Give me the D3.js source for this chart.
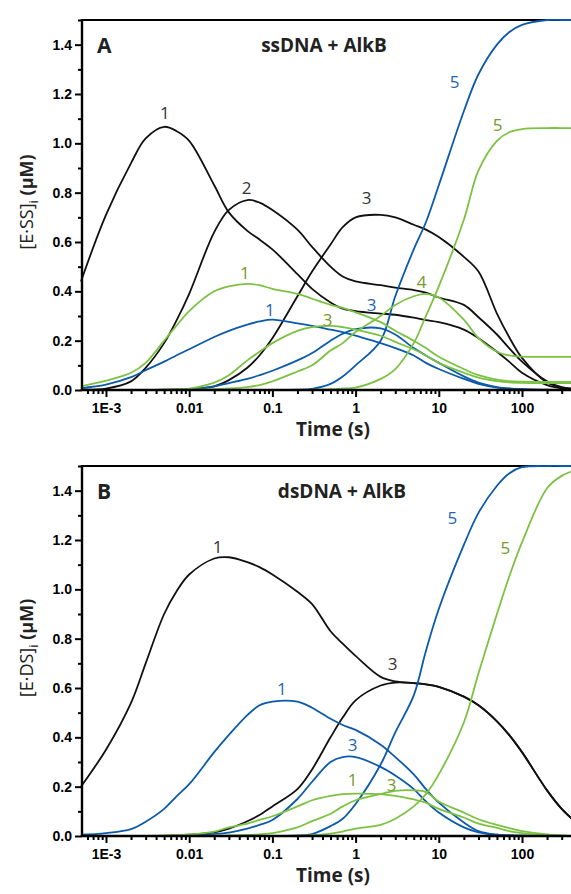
<!DOCTYPE html>
<html><head><meta charset="utf-8">
<script src="https://cdn.jsdelivr.net/npm/d3@7"></script>
<style>body{margin:0;background:#fff}</style>
</head><body>
<svg id="c" width="571" height="894"></svg>
<script>
// ---- data ----
const times = [0.0005, 0.001, 0.002, 0.003, 0.005, 0.007, 0.01, 0.02, 0.03, 0.05, 0.07, 0.1, 0.2, 0.3, 0.5, 0.7, 1, 2, 3, 5, 7, 10, 20, 30, 50, 70, 100, 200, 300, 500];

const xTickValues = [0.001, 0.01, 0.1, 1, 10, 100];
const xTickLabels = ["1E-3", "0.01", "0.1", "1", "10", "100"];
const yTickValues = [0, 0.2, 0.4, 0.6, 0.8, 1.0, 1.2, 1.4];
const yTickLabels = ["0.0", "0.2", "0.4", "0.6", "0.8", "1.0", "1.2", "1.4"];

// Panel A : ssDNA + AlkB
const aBlack1 = [0.44, 0.71, 0.92, 1.02, 1.067, 1.05, 1.01, 0.83, 0.72, 0.645, 0.61, 0.57, 0.47, 0.41, 0.355, 0.33, 0.32, 0.31, 0.305, 0.293, 0.283, 0.275, 0.245, 0.21, 0.155, 0.115, 0.07, 0.02, 0.007, 0.002];
const aBlack2 = [0.002, 0.006, 0.035, 0.09, 0.19, 0.28, 0.39, 0.64, 0.73, 0.77, 0.76, 0.73, 0.65, 0.58, 0.50, 0.46, 0.44, 0.425, 0.415, 0.405, 0.395, 0.375, 0.345, 0.295, 0.225, 0.17, 0.115, 0.035, 0.012, 0.004];
const aBlack3 = [0, 0, 0, 0, 0, 0.001, 0.003, 0.015, 0.04, 0.09, 0.14, 0.21, 0.38, 0.48, 0.59, 0.66, 0.70, 0.71, 0.70, 0.67, 0.65, 0.62, 0.54, 0.48, 0.31, 0.215, 0.13, 0.03, 0.01, 0.002];
const aBlue1 = [0.008, 0.022, 0.052, 0.08, 0.115, 0.14, 0.165, 0.215, 0.24, 0.265, 0.278, 0.285, 0.27, 0.26, 0.245, 0.235, 0.22, 0.19, 0.17, 0.14, 0.11, 0.085, 0.045, 0.025, 0.01, 0.005, 0.002, 0, 0, 0];
const aBlue3 = [0, 0, 0, 0, 0.001, 0.002, 0.004, 0.015, 0.028, 0.045, 0.06, 0.078, 0.12, 0.15, 0.20, 0.228, 0.247, 0.25, 0.225, 0.17, 0.14, 0.11, 0.055, 0.03, 0.012, 0.006, 0.003, 0.001, 0, 0];
const aBlue5 = [0, 0, 0, 0, 0, 0, 0, 0, 0, 0, 0, 0, 0.001, 0.005, 0.025, 0.055, 0.10, 0.20, 0.38, 0.57, 0.68, 0.83, 1.13, 1.28, 1.40, 1.45, 1.48, 1.50, 1.50, 1.50];
const aGreen1 = [0.015, 0.038, 0.07, 0.11, 0.2, 0.26, 0.32, 0.40, 0.42, 0.43, 0.425, 0.41, 0.39, 0.37, 0.345, 0.333, 0.315, 0.275, 0.24, 0.20, 0.17, 0.135, 0.085, 0.06, 0.042, 0.036, 0.034, 0.033, 0.033, 0.033];
const aGreen3 = [0, 0, 0, 0, 0.001, 0.003, 0.006, 0.03, 0.06, 0.12, 0.155, 0.19, 0.24, 0.255, 0.26, 0.255, 0.245, 0.22, 0.195, 0.165, 0.14, 0.11, 0.07, 0.05, 0.036, 0.031, 0.029, 0.028, 0.028, 0.028];
const aGreen4 = [0, 0, 0, 0, 0, 0, 0.001, 0.003, 0.006, 0.012, 0.02, 0.035, 0.075, 0.10, 0.16, 0.19, 0.235, 0.30, 0.345, 0.38, 0.39, 0.375, 0.285, 0.21, 0.155, 0.14, 0.135, 0.134, 0.134, 0.134];
const aGreen5 = [0, 0, 0, 0, 0, 0, 0, 0, 0, 0, 0, 0, 0, 0.001, 0.003, 0.006, 0.01, 0.045, 0.085, 0.19, 0.30, 0.42, 0.69, 0.89, 1.01, 1.045, 1.058, 1.062, 1.062, 1.062];

// Panel B : dsDNA + AlkB
const bBlack1 = [0.20, 0.35, 0.54, 0.70, 0.90, 0.99, 1.06, 1.125, 1.13, 1.11, 1.09, 1.06, 0.99, 0.94, 0.83, 0.78, 0.73, 0.645, 0.627, 0.62, 0.615, 0.605, 0.565, 0.53, 0.465, 0.41, 0.34, 0.185, 0.11, 0.04];
const bBlack3 = [0, 0, 0, 0, 0, 0.002, 0.005, 0.015, 0.03, 0.06, 0.085, 0.12, 0.19, 0.27, 0.40, 0.48, 0.55, 0.61, 0.622, 0.62, 0.615, 0.605, 0.565, 0.53, 0.465, 0.41, 0.34, 0.185, 0.11, 0.04];
const bBlue1 = [0.005, 0.012, 0.028, 0.058, 0.11, 0.16, 0.21, 0.34, 0.41, 0.49, 0.53, 0.545, 0.545, 0.52, 0.475, 0.45, 0.43, 0.37, 0.32, 0.25, 0.19, 0.135, 0.055, 0.02, 0.005, 0.002, 0.001, 0, 0, 0];
const bBlue3 = [0, 0, 0, 0, 0, 0.001, 0.003, 0.008, 0.014, 0.03, 0.045, 0.065, 0.15, 0.22, 0.30, 0.32, 0.32, 0.28, 0.245, 0.19, 0.14, 0.095, 0.035, 0.015, 0.005, 0.002, 0.001, 0, 0, 0];
const bBlue5 = [0, 0, 0, 0, 0, 0, 0, 0, 0, 0, 0, 0, 0.002, 0.008, 0.04, 0.07, 0.13, 0.29, 0.42, 0.57, 0.75, 0.92, 1.18, 1.31, 1.42, 1.47, 1.495, 1.50, 1.50, 1.50];
const bGreen1 = [0, 0, 0, 0, 0.002, 0.004, 0.006, 0.018, 0.035, 0.05, 0.065, 0.08, 0.12, 0.145, 0.163, 0.17, 0.172, 0.17, 0.163, 0.148, 0.135, 0.11, 0.075, 0.05, 0.033, 0.02, 0.012, 0.003, 0.001, 0];
const bGreen3 = [0, 0, 0, 0, 0, 0, 0, 0.001, 0.002, 0.004, 0.007, 0.012, 0.035, 0.06, 0.09, 0.12, 0.145, 0.17, 0.183, 0.185, 0.178, 0.14, 0.095, 0.068, 0.045, 0.032, 0.02, 0.006, 0.002, 0];
const bGreen5 = [0, 0, 0, 0, 0, 0, 0, 0, 0, 0, 0, 0, 0.001, 0.003, 0.01, 0.018, 0.03, 0.045, 0.07, 0.12, 0.17, 0.25, 0.46, 0.66, 0.90, 1.05, 1.19, 1.41, 1.46, 1.49];

// curve labels: text, time, value, colour group
const aLabelText = ["1", "2", "3", "1", "1", "3", "3", "4", "5", "5"];
const aLabelTime = [0.0051, 0.049, 1.36, 0.0466, 0.093, 0.46, 1.56, 6.2, 15.5, 51];
const aLabelValue = [1.127, 0.82, 0.78, 0.475, 0.327, 0.285, 0.345, 0.44, 1.25, 1.075];
const aLabelGroup = ["k", "k", "k", "g", "b", "g", "b", "g", "b", "g"];

const bLabelText = ["1", "3", "1", "3", "1", "3", "5", "5"];
const bLabelTime = [0.022, 2.79, 0.13, 0.92, 0.92, 2.71, 14.6, 63];
const bLabelValue = [1.175, 0.70, 0.6, 0.37, 0.23, 0.21, 1.29, 1.17];
const bLabelGroup = ["k", "k", "b", "b", "g", "g", "b", "g"];

// ---- styles ----
const lineColor = {k: "#111111", b: "#0b5aab", g: "#7cc242"};
const labelColor = {k: "#333333", b: "#1f63b3", g: "#759a2a"};

const panels = [
  {letter: "A", title: "ssDNA + AlkB", yname: "[E·SS]", top: 20, bottom: 390, titleX: 324,
   series: [[aBlack1, "k"], [aBlack2, "k"], [aBlack3, "k"], [aBlue1, "b"], [aBlue3, "b"], [aBlue5, "b"], [aGreen1, "g"], [aGreen3, "g"], [aGreen4, "g"], [aGreen5, "g"]],
   labels: aLabelText.map((t, i) => [t, aLabelTime[i], aLabelValue[i], aLabelGroup[i]])},
  {letter: "B", title: "dsDNA + AlkB", yname: "[E·DS]", top: 466, bottom: 836, titleX: 342,
   series: [[bBlack1, "k"], [bBlack3, "k"], [bBlue1, "b"], [bBlue3, "b"], [bBlue5, "b"], [bGreen1, "g"], [bGreen3, "g"], [bGreen5, "g"]],
   labels: bLabelText.map((t, i) => [t, bLabelTime[i], bLabelValue[i], bLabelGroup[i]])}
];

const svg = d3.select("#c");
svg.append("rect").attr("width", 571).attr("height", 894).attr("fill", "#fff");

const x = d3.scaleLog().domain([5.15e-4, 1000]).range([82, 605.2]);
const minorX = [];
[1e-4, 1e-3, 1e-2, 1e-1, 1, 10, 100].forEach(d => { for (let k = 2; k <= 9; k++) { const v = d * k; if (v >= 5.15e-4 && v <= 1000) minorX.push(v); } });
const minorY = [0.1, 0.3, 0.5, 0.7, 0.9, 1.1, 1.3, 1.5];

const tickFont = "'Liberation Sans', Arial, sans-serif";
const textFont = "'Open Sans', 'DejaVu Sans', sans-serif";

panels.forEach(p => {
  const y = d3.scaleLinear().domain([0, 1.5]).range([p.bottom, p.top]);
  const g = svg.append("g");

  // top frame line
  g.append("line").attr("x1", 82).attr("x2", 605).attr("y1", y(1.5)).attr("y2", y(1.5))
    .attr("stroke", "#000").attr("stroke-width", 2);

  // curves
  const line = d3.line().x(d => x(d[0])).y(d => y(d[1])).curve(d3.curveCatmullRom.alpha(0.5));
  p.series.forEach(([vals, c]) => {
    g.append("path").datum(times.map((t, i) => [t, vals[i]]))
      .attr("d", line).attr("fill", "none").attr("stroke", lineColor[c]).attr("stroke-width", 1.8);
  });

  // x axis
  const xa = g.append("g").attr("transform", `translate(0,${p.bottom})`)
    .call(d3.axisBottom(x).tickValues(xTickValues).tickFormat((d, i) => xTickLabels[i]).tickSize(7).tickPadding(6));
  const xm = g.append("g").attr("transform", `translate(0,${p.bottom})`)
    .call(d3.axisBottom(x).tickValues(minorX).tickFormat("").tickSize(4));
  // y axis
  const ya = g.append("g").attr("transform", "translate(82,0)")
    .call(d3.axisLeft(y).tickValues(yTickValues).tickFormat((d, i) => yTickLabels[i]).tickSize(7).tickPadding(3));
  const ym = g.append("g").attr("transform", "translate(82,0)")
    .call(d3.axisLeft(y).tickValues(minorY).tickFormat("").tickSize(4));
  [xa, xm, ya, ym].forEach(a => {
    a.select(".domain").remove();
    a.selectAll("line").attr("stroke", "#000").attr("stroke-width", 2);
    a.selectAll("text").attr("font-family", tickFont).attr("font-weight", "bold").attr("font-size", 14).attr("fill", "#000");
  });
  // spines
  g.append("line").attr("x1", 82).attr("x2", 605).attr("y1", p.bottom).attr("y2", p.bottom).attr("stroke", "#000").attr("stroke-width", 2.4);
  g.append("line").attr("x1", 82).attr("x2", 82).attr("y1", p.top - 1).attr("y2", p.bottom + 1).attr("stroke", "#000").attr("stroke-width", 2.4);

  // curve labels
  p.labels.forEach(([t, tv, vv, c]) => {
    g.append("text").attr("x", x(tv)).attr("y", y(vv)).attr("text-anchor", "middle").attr("dominant-baseline", "central")
      .attr("font-family", textFont).attr("font-size", 17).attr("fill", labelColor[c]).text(t);
  });

  // panel letter and title
  g.append("text").attr("x", 97).attr("y", y(1.4) + 8).attr("font-family", textFont).attr("font-weight", "bold")
    .attr("font-size", 21).attr("fill", "#222").text(p.letter);
  g.append("text").attr("x", p.titleX).attr("y", y(1.4) + 7).attr("text-anchor", "middle").attr("font-family", textFont)
    .attr("font-weight", "bold").attr("font-size", 19).attr("fill", "#222").text(p.title);

  // axis titles
  g.append("text").attr("x", 333).attr("y", p.bottom + 46).attr("text-anchor", "middle").attr("font-family", textFont)
    .attr("font-weight", "bold").attr("font-size", 19).attr("fill", "#222").text("Time (s)");
  const yt = g.append("text").attr("transform", `translate(33,${(p.top + p.bottom) / 2 - 3}) rotate(-90)`)
    .attr("text-anchor", "middle").attr("font-family", textFont).attr("font-size", 18).attr("fill", "#222");
  yt.append("tspan").text(p.yname);
  yt.append("tspan").attr("font-size", 13).attr("dy", 5).text("i");
  yt.append("tspan").attr("dy", -5).attr("font-weight", "bold").text(" (μM)");
});
</script>
</body></html>
